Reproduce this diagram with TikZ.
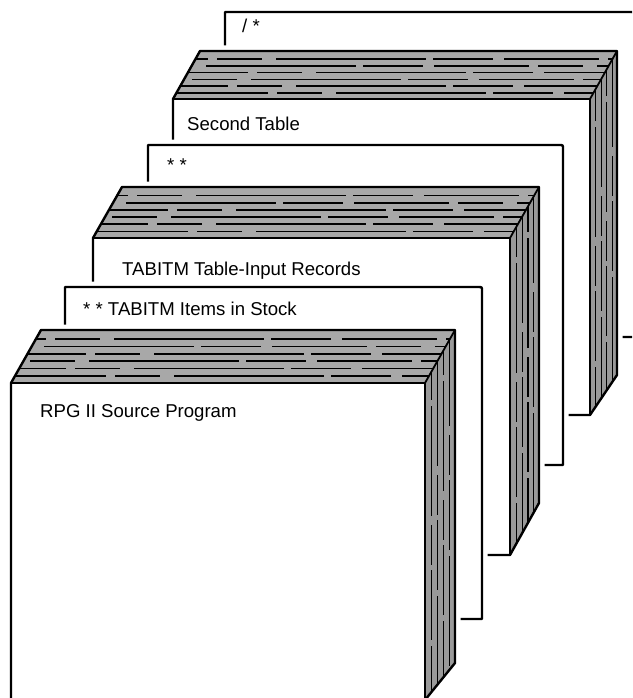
\documentclass[tikz,border=0pt]{standalone}
\usepackage{fontspec}
\setmainfont{Liberation Sans}
\tikzset{
  edge line/.style={line width=2.4pt, line join=round, line cap=round},
  inner edge/.style={line width=1.8pt, line join=round, line cap=round},
  halo/.style={draw=white, line width=11pt, line join=round},
  top face/.style={fill=black!34},
  side face/.style={fill=black!40},
  top stripe/.style={line width=1.6pt, dash pattern=on 95pt off 9pt on 45pt off 14pt on 150pt off 7pt on 60pt off 11pt},
  side stripe/.style={line width=1.1pt, dash pattern=on 70pt off 6pt on 110pt off 9pt on 40pt off 5pt},
  card text/.style={anchor=base west, inner sep=0pt, font=\fontsize{18.6}{21}\selectfont},
}
% deck of cards seen in perspective:
% #1 name, #2 #3 front top-left, #4 right x, #5 bottom y, #6 #7 depth offset (right, up), #8 bottom of the back edge
\newcommand\deckdraw[8]{%
  \coordinate (#1-fl) at (#2,#3);
  \coordinate (#1-fr) at (#4,#3);
  \coordinate (#1-bl) at (#2+#6,#3-#7);
  \coordinate (#1-br) at (#4+#6,#3-#7);
  \coordinate (#1-sb) at (#4+#6,#8);
  \coordinate (#1-fb) at (#4,#5);
  \coordinate (#1-lb) at (#2,#5);
  \path[halo, fill=white] (#1-lb) -- (#1-fl) -- (#1-bl) -- (#1-br) -- (#1-sb) -- (#1-fb) -- cycle;
  \fill[top face] (#1-fl) -- (#1-fr) -- (#1-br) -- (#1-bl) -- cycle;
  \begin{scope}
    \clip (#1-fl) -- (#1-fr) -- (#1-br) -- (#1-bl) -- cycle;
    \foreach \f/\p in {0.13/0, 0.27/40, 0.41/85, 0.55/20, 0.69/130, 0.83/60}
      \draw[top stripe, dash phase=\p pt] (#2, {#3-\f*#7}) -- (#4+#6, {#3-\f*#7});
  \end{scope}
  \fill[side face] (#1-fr) -- (#1-br) -- (#1-sb) -- (#1-fb) -- cycle;
  \begin{scope}
    \clip (#1-fr) -- (#1-br) -- (#1-sb) -- (#1-fb) -- cycle;
    \foreach \g/\p in {0.22/0, 0.42/50, 0.62/25, 0.82/90}
      \draw[side stripe, dash phase=\p pt] ({#4+\g*#6}, #3-#7) -- ({#4+\g*#6}, #5);
  \end{scope}
  \draw[edge line] (#1-lb) -- (#1-fl) -- (#1-bl) -- (#1-br) -- (#1-sb) -- (#1-fb) -- cycle;
  \draw[inner edge] (#1-fl) -- (#1-fr) -- (#1-br) (#1-fr) -- (#1-fb);
}
% single flat card: #1 name, #2 #3 top-left, #4 #5 bottom-right
\newcommand\carddraw[5]{%
  \coordinate (#1-tl) at (#2,#3);
  \coordinate (#1-bl) at (#2,#5);
  \coordinate (#1-br) at (#4,#5);
  \path[halo, fill=white] (#1-bl) -- (#1-tl) -- (#4-4,#3) .. controls (#4,#3) .. (#4,#3+4) -- (#1-br) -- cycle;
  \draw[edge line] (#1-bl) -- (#1-tl) -- (#4-4,#3) .. controls (#4,#3) .. (#4,#3+4) -- (#1-br) -- cycle;
}
\begin{document}
\begin{tikzpicture}[x=1pt, y=-1pt]
  \useasboundingbox (0,0) rectangle (632,698);
  \clip (0,0) rectangle (632,698);
  \fill[white] (0,0) rectangle (632,698);

  % back to front
  \carddraw{crdE}{225}{12}{634}{337}
  \node[card text] (lblE) at (242,33) {/ *};

  \deckdraw{tbl}{173}{99}{590}{415}{27}{48}{375}
  \node[card text] (lbltbl) at (187,131) {Second Table};

  \carddraw{crdD}{148}{145}{563}{465}
  \node[card text] (lblD) at (167,171) {* *};

  \deckdraw{tin}{93}{238}{510}{555}{29}{51}{503}
  \node[card text] (lbltin) at (122,275) {TABITM Table-Input Records};

  \carddraw{crdC}{65}{287}{482}{619}
  \node[card text] (lblC) at (83,315) {* * TABITM Items in Stock};

  \deckdraw{src}{11}{383}{425}{700}{30}{53}{663}
  \node[card text] (lblsrc) at (40,417) {RPG II Source Program};
\end{tikzpicture}
\end{document}
